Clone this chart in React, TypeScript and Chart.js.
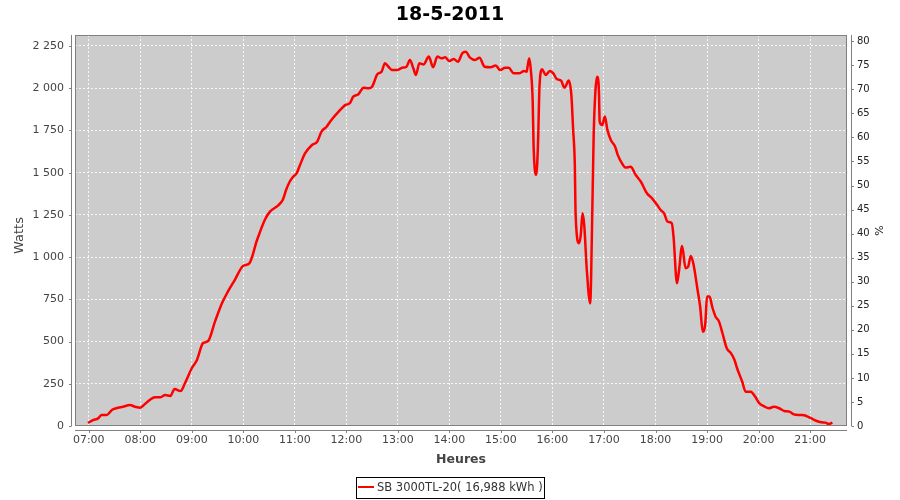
import React, { useEffect, useRef } from "react";
import { Chart, registerables } from "chart.js";

Chart.register(...registerables);

const TITLE = "18-5-2011";
const X_TITLE = "Heures";
const Y_TITLE = "Watts";
const Y2_TITLE = "%";
const SERIES_LABEL = "SB 3000TL-20( 16,988 kWh )";

// minutes since midnight
const TIMES = [
  419, 425, 431, 435, 441, 447, 452, 460, 468, 474, 480, 485, 491, 497, 503, 509, 515, 520, 527, 532,
  540, 546, 553, 559, 567, 575, 582, 590, 600, 607, 616, 625, 631, 641, 646, 650, 654, 658, 662, 666,
  672, 680, 686, 691, 697, 701, 711, 719, 724, 728, 734, 740, 746, 750, 756, 761, 765, 769, 773, 779,
  785, 790, 794, 798, 801, 805, 810, 816, 821, 826, 831, 835, 840, 845, 850, 855, 859, 864, 870, 875,
  881, 888, 894, 899, 905, 909, 915, 921, 927, 930, 931, 933, 935, 937, 938, 941, 943, 945, 948, 952,
  957, 961, 965, 970, 974, 979, 982, 984, 986, 987, 991, 993, 995, 997, 1000, 1004, 1005, 1008, 1010, 1012,
  1014, 1015, 1018, 1021, 1024, 1028, 1033, 1036, 1041, 1045, 1051, 1057, 1063, 1070, 1076, 1082, 1086, 1090, 1094, 1099,
  1101, 1105, 1107, 1111, 1115, 1118, 1121, 1124, 1129, 1132, 1135, 1138, 1140, 1143, 1146, 1150, 1154, 1158, 1163, 1168,
  1172, 1175, 1181, 1185, 1191, 1196, 1201, 1206, 1212, 1218, 1224, 1230, 1236, 1241, 1249, 1255, 1261, 1267, 1273, 1278,
  1282, 1286,
];

const WATTS = [
  18, 35, 45, 65, 65, 95, 105, 114, 124, 114, 108, 128, 154, 170, 170, 183, 178, 219, 207, 253,
  342, 391, 490, 503, 618, 726, 795, 864, 949, 963, 1101, 1220, 1269, 1308, 1340, 1400, 1446, 1476, 1496, 1545,
  1615, 1664, 1683, 1743, 1772, 1802, 1861, 1901, 1911, 1950, 1964, 2003, 2000, 2009, 2082, 2098, 2148, 2127, 2108, 2108,
  2121, 2127, 2167, 2118, 2078, 2148, 2141, 2187, 2124, 2187, 2177, 2183, 2161, 2173, 2157, 2207, 2216, 2181, 2167, 2181,
  2127, 2124, 2134, 2108, 2121, 2121, 2088, 2088, 2102, 2098, 2127, 2177, 2098, 1920, 1664, 1486, 1644, 2019, 2112, 2078,
  2102, 2088, 2055, 2045, 2003, 2045, 1960, 1763, 1555, 1249, 1082, 1131, 1259, 1190, 924, 726, 875, 1723, 1980, 2068,
  2000, 1802, 1782, 1832, 1753, 1693, 1654, 1605, 1555, 1530, 1535, 1486, 1446, 1378, 1348, 1308, 1279, 1259, 1210, 1200,
  1121, 845, 904, 1066, 934, 943, 1007, 963, 805, 706, 558, 608, 766, 766, 706, 647, 618, 549, 460, 430,
  391, 342, 262, 203, 203, 174, 134, 118, 105, 114, 105, 89, 85, 69, 65, 61, 46, 31, 22, 20,
  12, 20,
];

const X_TICKS = [420, 480, 540, 600, 660, 720, 780, 840, 900, 960, 1020, 1080, 1140, 1200, 1260];
const Y_TICKS = [0, 250, 500, 750, 1000, 1250, 1500, 1750, 2000, 2250];
const Y2_TICKS = [0, 5, 10, 15, 20, 25, 30, 35, 40, 45, 50, 55, 60, 65, 70, 75, 80];

const FONT = "DejaVu Sans";

function fmtTime(m: number): string {
  const h = Math.floor(m / 60);
  return String(h).padStart(2, "0") + ":00";
}

function fmtNum(v: number): string {
  if (v >= 1000) return Math.floor(v / 1000) + " " + String(v % 1000).padStart(3, "0");
  return String(v);
}

const decor = {
  id: "decor",
  beforeDraw(chart: any) {
    const { ctx, chartArea: a, width, height } = chart;
    ctx.save();
    ctx.fillStyle = "#ffffff";
    ctx.fillRect(0, 0, width, height);
    ctx.fillStyle = "#cccccc";
    ctx.fillRect(a.left, a.top, a.right - a.left, a.bottom - a.top);
    ctx.restore();
  },
  afterDraw(chart: any) {
    const { ctx, chartArea: a } = chart;
    const sx = chart.scales.x;
    const sy = chart.scales.y;
    const sy2 = chart.scales.y1;
    ctx.save();
    // plot outline
    ctx.strokeStyle = "#808080";
    ctx.lineWidth = 1;
    ctx.strokeRect(a.left + 0.5, a.top + 0.5, a.right - a.left - 1, a.bottom - a.top - 1);

    // axis lines (offset from the plot)
    ctx.strokeStyle = "#808080";
    ctx.beginPath();
    const lx = a.left - 3.5;
    ctx.moveTo(lx, a.top);
    ctx.lineTo(lx, a.bottom);
    for (const v of Y_TICKS) {
      const p = Math.round(sy.getPixelForValue(v)) + 0.5;
      ctx.moveTo(lx - 2.5, p);
      ctx.lineTo(lx, p);
    }
    const by = a.bottom + 4.5;
    ctx.moveTo(a.left, by);
    ctx.lineTo(a.right, by);
    for (const v of X_TICKS) {
      const p = Math.round(sx.getPixelForValue(v)) + 0.5;
      ctx.moveTo(p, by);
      ctx.lineTo(p, by + 2.5);
    }
    const rx = a.right + 4.5;
    ctx.moveTo(rx, a.top);
    ctx.lineTo(rx, a.bottom);
    for (const v of Y2_TICKS) {
      const p = Math.round(sy2.getPixelForValue(v)) + 0.5;
      ctx.moveTo(rx, p);
      ctx.lineTo(rx + 2.5, p);
    }
    ctx.stroke();

    // title
    ctx.fillStyle = "#000000";
    ctx.font = `bold 19px "${FONT}"`;
    ctx.textAlign = "center";
    ctx.textBaseline = "middle";
    ctx.fillText(TITLE, 450, 15);

    // x axis title
    const cx = (a.left + a.right) / 2;
    const cy = (a.top + a.bottom) / 2;
    ctx.fillStyle = "#444444";
    ctx.font = `bold 12.5px "${FONT}"`;
    ctx.fillText(X_TITLE, cx, 460);

    // left axis title
    ctx.save();
    ctx.translate(20, cy + 5);
    ctx.rotate(-Math.PI / 2);
    ctx.font = `13px "${FONT}"`;
    ctx.fillStyle = "#444444";
    ctx.fillText(Y_TITLE, 0, 0);
    ctx.restore();

    // right axis title
    ctx.save();
    ctx.translate(880, cy);
    ctx.rotate(-Math.PI / 2);
    ctx.font = `11px "${FONT}"`;
    ctx.fillStyle = "#222222";
    ctx.fillText(Y2_TITLE, 0, 0);
    ctx.restore();

    // legend
    ctx.strokeStyle = "#000000";
    ctx.lineWidth = 1;
    ctx.strokeRect(356.5, 477.5, 188, 21);
    ctx.strokeStyle = "#ff0000";
    ctx.lineWidth = 2;
    ctx.beginPath();
    ctx.moveTo(358, 487);
    ctx.lineTo(374, 487);
    ctx.stroke();
    ctx.fillStyle = "#333333";
    ctx.font = `11.5px "${FONT}"`;
    ctx.textAlign = "left";
    ctx.textBaseline = "middle";
    ctx.fillText(SERIES_LABEL, 377, 488);
    ctx.restore();
  },
};

export default function App() {
  const ref = useRef<HTMLCanvasElement | null>(null);

  useEffect(() => {
    if (!ref.current) return;
    const gridColor = "rgba(255,255,255,0.85)";
    const chart = new Chart(ref.current, {
      type: "line",
      data: {
        datasets: [
          {
            label: SERIES_LABEL,
            data: TIMES.map((t, i) => ({ x: t, y: WATTS[i] })),
            borderColor: "#ff0000",
            backgroundColor: "#ff0000",
            borderWidth: 2.5,
            pointRadius: 0,
            cubicInterpolationMode: "monotone",
            fill: false,
            yAxisID: "y",
          },
        ],
      },
      options: {
        animation: false,
        responsive: false,
        layout: { padding: { top: 35, left: 0, right: 0, bottom: 0 } },
        plugins: {
          legend: { display: false },
          title: { display: false },
          tooltip: { enabled: false },
        },
        scales: {
          x: {
            type: "linear",
            min: 404,
            max: 1303,
            afterBuildTicks: (s: any) => {
              s.ticks = X_TICKS.map((v) => ({ value: v }));
            },
            afterFit: (s: any) => {
              s.height = 74;
            },
            grid: { color: gridColor, lineWidth: 1, drawTicks: false },
            border: { display: false, dash: [2, 2] },
            ticks: {
              callback: (v: any) => fmtTime(Number(v)),
              padding: 8,
              color: "#444444",
              font: { family: FONT, size: 11 },
              maxRotation: 0,
              autoSkip: false,
            },
          },
          y: {
            type: "linear",
            position: "left",
            min: 0,
            max: 2315,
            afterBuildTicks: (s: any) => {
              s.ticks = Y_TICKS.map((v) => ({ value: v }));
            },
            afterFit: (s: any) => {
              s.width = 75;
            },
            grid: { color: gridColor, lineWidth: 1, drawTicks: false },
            border: { display: false, dash: [2, 2] },
            ticks: {
              callback: (v: any) => fmtNum(Number(v)),
              padding: 11,
              color: "#444444",
              font: { family: FONT, size: 11 },
              autoSkip: false,
            },
          },
          y1: {
            type: "linear",
            position: "right",
            min: 0,
            max: 81.3,
            afterBuildTicks: (s: any) => {
              s.ticks = Y2_TICKS.map((v) => ({ value: v }));
            },
            afterFit: (s: any) => {
              s.width = 53;
            },
            grid: { display: false, drawOnChartArea: false, drawTicks: false },
            border: { display: false },
            ticks: {
              padding: 10,
              color: "#222222",
              font: { family: FONT, size: 10 },
              autoSkip: false,
            },
          },
        },
      },
      plugins: [decor],
    });
    return () => chart.destroy();
  }, []);

  return (
    <div style={{ position: "fixed", left: 0, top: 0, width: 900, height: 500 }}>
      <canvas ref={ref} width={900} height={500} style={{ display: "block", width: 900, height: 500 }} />
    </div>
  );
}
